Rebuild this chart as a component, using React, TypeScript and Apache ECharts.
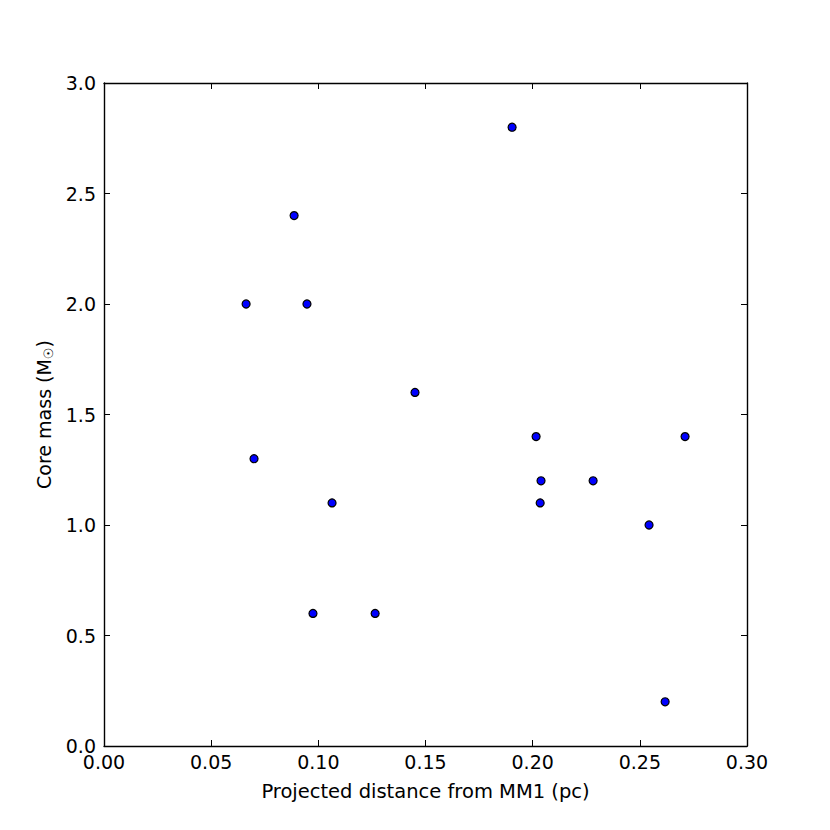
import React, { useEffect, useRef } from "react";
import * as echarts from "echarts";

const distancePc = [0.0663, 0.070, 0.0887, 0.0947, 0.0975, 0.1064, 0.1265, 0.1451, 0.1904, 0.2016, 0.2039, 0.2035, 0.2282, 0.2543, 0.2618, 0.2711];
const coreMass = [2.0, 1.3, 2.4, 2.0, 0.6, 1.1, 0.6, 1.6, 2.8, 1.4, 1.2, 1.1, 1.2, 1.0, 0.2, 1.4];

const xTitle = "Projected distance from MM1 (pc)";
const yTitle = "Core mass (M{sub|☉})";

export default function App() {
  const ref = useRef<HTMLDivElement>(null);
  useEffect(() => {
    if (!ref.current) return;
    const chart = echarts.init(ref.current, null, { renderer: "svg" });
    const font = "DejaVu Sans";
    const axisLine = { show: true, onZero: false, lineStyle: { color: "#000", width: 1.4 } };
    const axisTick = { show: true, inside: true, length: 6, lineStyle: { color: "#000", width: 1 } };
    const label = { color: "#000", fontSize: 19, fontFamily: font };
    chart.setOption({
      animation: false,
      backgroundColor: "#fff",
      grid: { left: 104, right: 83, top: 83, bottom: 84, containLabel: false },
      xAxis: [
        {
          type: "value", min: 0, max: 0.3, interval: 0.05, position: "bottom",
          axisLine, axisTick, splitLine: { show: false },
          axisLabel: { ...label, margin: 6, formatter: (v: number) => v.toFixed(2) },
          name: xTitle, nameLocation: "middle", nameGap: 35,
          nameTextStyle: { color: "#000", fontSize: 19.5, fontFamily: font },
        },
        {
          type: "value", min: 0, max: 0.3, interval: 0.05, position: "top",
          axisLine, axisTick, splitLine: { show: false }, axisLabel: { show: false },
        },
      ],
      yAxis: [
        {
          type: "value", min: 0, max: 3, interval: 0.5, position: "left",
          axisLine, axisTick, splitLine: { show: false },
          axisLabel: { ...label, margin: 8, formatter: (v: number) => v.toFixed(1) },
          name: yTitle, nameLocation: "middle", nameGap: 48, nameRotate: 90,
          nameTextStyle: {
            color: "#000", fontSize: 19, fontFamily: font,
            rich: { sub: { fontSize: 13, fontFamily: font, color: "#000", verticalAlign: "bottom", padding: [8, 0, 0, 0] } },
          },
        },
        {
          type: "value", min: 0, max: 3, interval: 0.5, position: "right",
          axisLine, axisTick, splitLine: { show: false }, axisLabel: { show: false },
        },
      ],
      series: [
        {
          type: "scatter",
          xAxisIndex: 0,
          yAxisIndex: 0,
          symbol: "circle",
          symbolSize: 8,
          itemStyle: { color: "#0000ff", opacity: 1, borderColor: "#000", borderWidth: 1.2 },
          data: distancePc.map((x, i) => [x, coreMass[i]]),
        },
      ],
    });
    return () => chart.dispose();
  }, []);
  return <div ref={ref} style={{ position: "fixed", left: 0, top: 0, width: 830, height: 830 }} />;
}
